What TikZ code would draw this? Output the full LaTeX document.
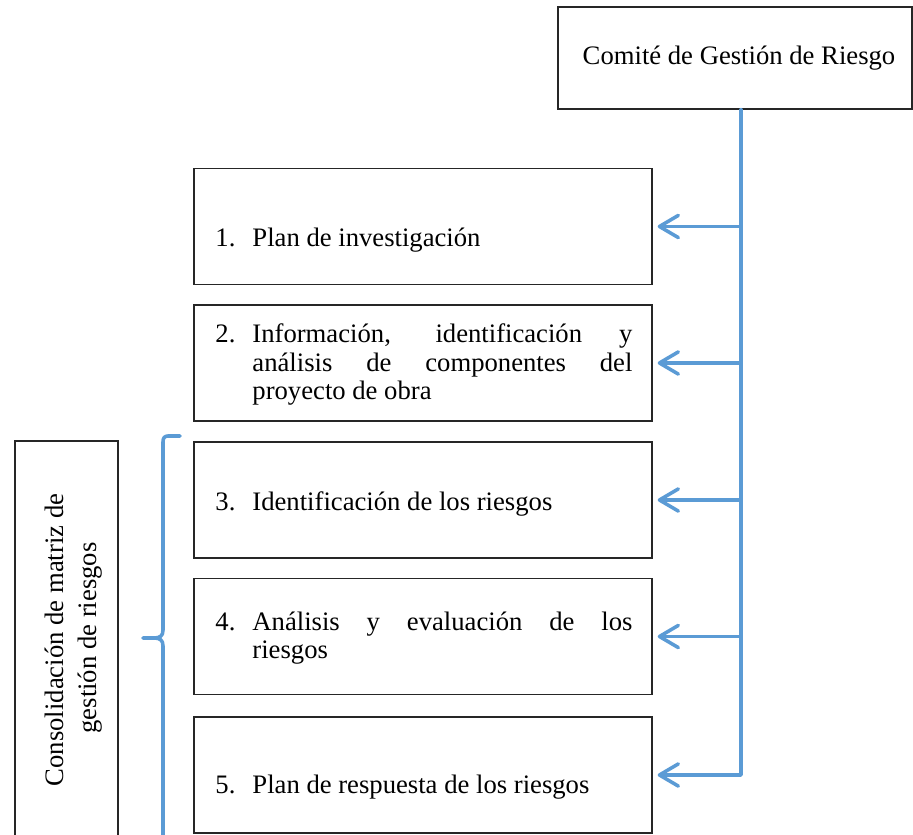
\documentclass[tikz,border=0pt]{standalone}
\usepackage{fontspec}
\setmainfont{Liberation Serif}
\usetikzlibrary{arrows.meta}
\definecolor{accent}{HTML}{5B9BD5}
\newcommand{\listentry}[2]{\parbox[t]{187.65pt}{\tolerance=10000\hyphenpenalty=10000\hangindent=16.65pt\hangafter=1\noindent\makebox[16.65pt][l]{#1}#2}}
\begin{document}
\begin{tikzpicture}[x=0.45pt,y=-0.45pt,
  txt/.style={font=\fontsize{12}{12.8}\selectfont},
  frame/.style={draw=black!85, line width=0.6pt, inner sep=0pt},
  stepbox/.style={frame, minimum width=206.1pt, minimum height=52.2pt},
  item/.style={txt, anchor=base west, inner sep=0pt},
  spineline/.style={draw=accent, line width=1.6pt, line cap=round, line join=round},
  link/.style={spineline, -{Straight Barb[round,length=8.5pt,width=10pt]}, shorten >=2.25pt}]
\useasboundingbox (0,0) rectangle (913,835);
\clip (0,0) rectangle (913,835);
% top box
\node[frame, txt, minimum width=159.3pt, minimum height=45.9pt] (top) at (735,58) {\hspace*{3.6pt}Comité de Gestión de Riesgo};
% step boxes
\node[stepbox] (b1) at (423,226.5) {};
\node[stepbox] (b2) at (423,363) {};
\node[stepbox] (b3) at (423,500) {};
\node[stepbox] (b4) at (423,636.5) {};
\node[stepbox] (b5) at (423,775) {};
% texts
\node[item] (t1) at (215,247) {\listentry{1.}{Plan de investigación}};
\node[item] (t2) at (215,343) {\listentry{2.}{Información, identificación y\linebreak análisis de componentes del\linebreak proyecto de obra}};
\node[item] (t3) at (215,510) {\listentry{3.}{Identificación de los riesgos}};
\node[item] (t4) at (215,630) {\listentry{4.}{Análisis y evaluación de los\linebreak riesgos}};
\node[item] (t5) at (215,793) {\listentry{5.}{Plan de respuesta de los riesgos}};
% spine
\coordinate (spine) at (741,109);
\draw[link] (top.south -| spine) -- (b5.east -| spine) -- (b5.east);
\draw[link] (b1.east -| spine) -- (b1.east);
\draw[link] (b2.east -| spine) -- (b2.east);
\draw[link] (b3.east -| spine) -- (b3.east);
\draw[link] (b4.east -| spine) -- (b4.east);
% left box
\node[frame, minimum width=46.35pt, minimum height=184.05pt] (cons) at (66.5,645.5) {};
\node[txt, rotate=90, anchor=base, inner sep=0pt] (c1) at (63,640) {Consolidación de matriz de};
\node[txt, rotate=90, anchor=base, inner sep=0pt] (c2) at (96,638) {gestión de riesgos};
% brace
\draw[spineline] (180,436) -- (168,436) .. controls (164.5,436) and (163,438) .. (163,442)
  -- (163,630) .. controls (163,636) and (160,638) .. (154,638) -- (143,638);
\draw[spineline] (154,638) .. controls (160,638) and (163,640) .. (163,646) -- (163,850);
\end{tikzpicture}
\end{document}
